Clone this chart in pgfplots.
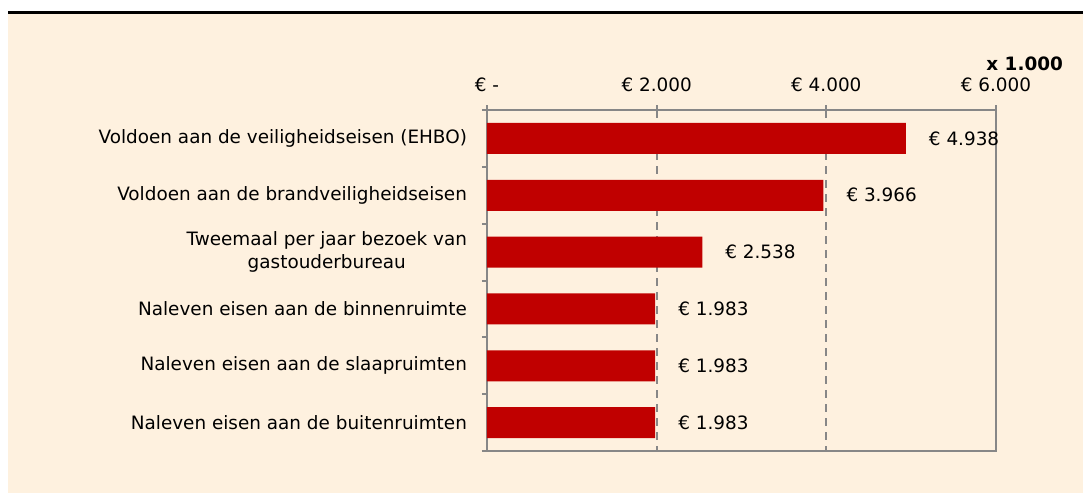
\documentclass[border=0pt]{standalone}
\usepackage{fontspec}
\setmainfont{DejaVu Sans}
\usepackage{pgfplots}
\pgfplotsset{compat=1.18}
\definecolor{cream}{HTML}{FEF1DF}
\definecolor{barred}{HTML}{C00000}
\definecolor{axgray}{HTML}{878787}
\begin{document}
\begin{tikzpicture}[font=\fontsize{9.2pt}{11.2pt}\selectfont]
\path[use as bounding box] (0,0) rectangle (541.5pt,-246.5pt);
\fill[cream] (4pt,-6.5pt) rectangle (541.5pt,-246.5pt);
\draw[black, line width=1.2pt] (4pt,-6.2pt) -- (541.5pt,-6.2pt);
\begin{axis}[
  at={(243.5pt,-225.5pt)}, anchor=south west,
  width=254.5pt, height=170.5pt, scale only axis,
  xbar, bar width=15.5pt, clip=false,
  xmin=0, xmax=6000, ymin=-0.5, ymax=5.5, y dir=reverse,
  xtick={0,2000,4000,6000},
  xticklabels={{€ -},{€ 2.000},{€ 4.000},{€ 6.000}},
  xticklabel pos=right, xtick pos=right,
  scaled x ticks=false,
  xmajorgrids, major x grid style={axgray, line width=1pt, dash pattern=on 4pt off 3pt},
  ytick={0,1,2,3,4,5},
  yticklabels={{Voldoen aan de veiligheidseisen (EHBO)},{Voldoen aan de brandveiligheidseisen},{Tweemaal per jaar bezoek van\\gastouderbureau},{Naleven eisen aan de binnenruimte},{Naleven eisen aan de slaapruimten},{Naleven eisen aan de buitenruimten}},
  ytick pos=left,
  minor ytick={-0.5,0.5,1.5,2.5,3.5,4.5,5.5},
  major y tick style={draw=none},
  tick align=center,
  major tick length=5pt,
  minor tick length=2.5pt,
  minor y tick style={xshift=-1.25pt},
  axis line style={axgray, line width=1pt},
  tick style={axgray, line width=1pt},
  yticklabel style={align=center, xshift=-4pt, text=black},
  xticklabel style={text=black, yshift=3pt},
  nodes near coords, point meta=explicit symbolic,
  every node near coord/.append style={anchor=west, xshift=8pt, text=black},
]
\addplot[fill=barred, draw=none] coordinates {
  (4938,0) [€ 4.938]
  (3966,1) [€ 3.966]
  (2538,2) [€ 2.538]
  (1983,3) [€ 1.983]
  (1983,4) [€ 1.983]
  (1983,5) [€ 1.983]
};
\end{axis}
\node[anchor=east, font=\fontsize{9.2pt}{11.2pt}\selectfont\bfseries] at (535pt,-32pt) {x 1.000};
\end{tikzpicture}
\end{document}
